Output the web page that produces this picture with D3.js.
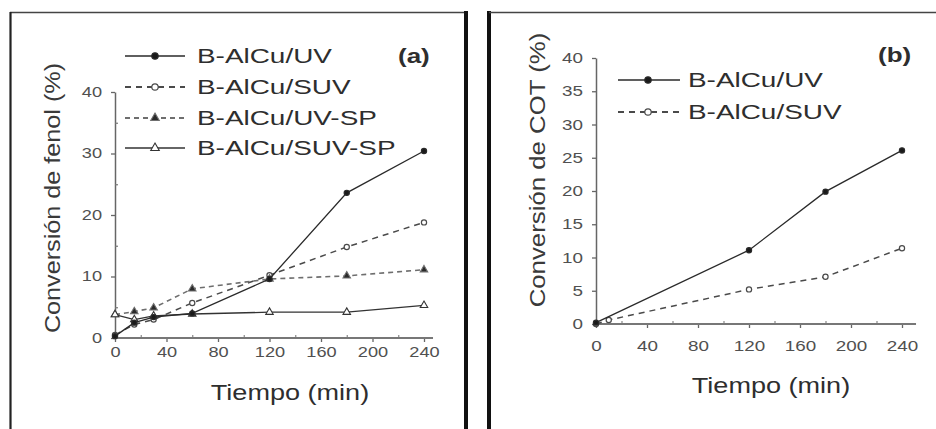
<!DOCTYPE html>
<html>
<head>
<meta charset="utf-8">
<script src="https://cdn.jsdelivr.net/npm/d3@7"></script>
<style>
  body { margin: 0; background: #fff; }
  svg text { font-family: "Liberation Sans", Arial, sans-serif; }
</style>
</head>
<body>
<div id="chart"></div>
<script>
// panel (a): phenol conversion
const timeA = [0, 15, 30, 60, 120, 180, 240];
const uvA = [0.3, 2.5, 3.4, 4.0, 9.6, 23.6, 30.4];
const suvA = [0.5, 2.2, 3.0, 5.7, 10.2, 14.8, 18.8];
const uvSpA = [3.8, 4.3, 4.9, 8.0, 9.6, 10.1, 11.1];
const suvSpA = [3.8, 3.0, 3.6, 3.9, 4.2, 4.2, 5.3];
const seriesNamesA = ["B-AlCu/UV", "B-AlCu/SUV", "B-AlCu/UV-SP", "B-AlCu/SUV-SP"];
const yTicksA = [0, 10, 20, 30, 40];
const yMinorA = [5, 15, 25, 35];

// panel (b): TOC conversion
const timeUvB = [0, 120, 180, 240];
const uvB = [0.2, 11.1, 19.9, 26.1];
const timeSuvB = [0, 10, 120, 180, 240];
const suvB = [0, 0.6, 5.2, 7.1, 11.4];
const seriesNamesB = ["B-AlCu/UV", "B-AlCu/SUV"];
const yTicksB = [0, 5, 10, 15, 20, 25, 30, 35, 40];

const xTicks = [0, 40, 80, 120, 160, 200, 240];
const xMinor = [20, 60, 100, 140, 180, 220];

const W = 936, H = 429;
const svg = d3.select("#chart").append("svg").attr("width", W).attr("height", H);

// styles per series kind
const styles = {
  uv:    { stroke: "#2a2a2a", dash: null,  width: 1.3, marker: "circle",   fill: "#1a1a1a" },
  suv:   { stroke: "#4a4a4a", dash: "6,5", width: 1.5, marker: "circle",   fill: "#fff" },
  uvSp:  { stroke: "#6e6e6e", dash: "5,4", width: 1.6, marker: "triangle", fill: "#2a2a2a" },
  suvSp: { stroke: "#333",    dash: null,  width: 1.3, marker: "triangle", fill: "#fff" }
};

const stretchText = (sel, sx) => sel.attr("transform", `scale(${sx},1)`);

function drawMarker(g, kind, x, y, st, size) {
  if (kind === "circle") {
    g.append("circle").attr("cx", x).attr("cy", y).attr("r", size)
      .attr("fill", st.fill).attr("stroke", st.stroke).attr("stroke-width", 1.2);
  } else {
    g.append("path")
      .attr("d", d3.symbol().type(d3.symbolTriangle).size(size * size * 5)())
      .attr("transform", `translate(${x},${y})`)
      .attr("fill", st.fill).attr("stroke", st.stroke).attr("stroke-width", 1.1);
  }
}

function drawSeries(g, x, y, times, vals, st, msize) {
  const pts = times.map((t, i) => [x(t), y(vals[i])]);
  g.append("path")
    .attr("d", d3.line()(pts))
    .attr("fill", "none")
    .attr("stroke", st.stroke)
    .attr("stroke-width", st.width)
    .attr("stroke-dasharray", st.dash);
  pts.forEach(p => drawMarker(g, st.marker, p[0], p[1], st, msize));
}

function drawAxes(g, x, y, opt) {
  const yAx = g.append("g").attr("transform", `translate(${x(0)},0)`)
    .call(d3.axisLeft(y).tickValues(opt.yTicks).tickSize(4).tickPadding(6).tickSizeOuter(0));
  yAx.select(".domain").attr("stroke", "#666").attr("stroke-width", 1.5);
  yAx.selectAll(".tick line").attr("stroke", "#666").attr("stroke-width", 1.3);
  yAx.selectAll("text").attr("font-size", opt.tickFont).attr("fill", "#505050")
    .call(stretchText, 1.3);
  if (opt.yMinor) {
    const m = g.append("g").attr("transform", `translate(${x(0)},0)`)
      .call(d3.axisLeft(y).tickValues(opt.yMinor).tickSize(-3).tickFormat(""));
    m.select(".domain").remove();
    m.selectAll(".tick line").attr("stroke", "#777").attr("stroke-width", 1.2);
  }

  const xAx = g.append("g").attr("transform", `translate(0,${y(0)})`)
    .call(d3.axisBottom(x).tickValues(xTicks).tickSize(4).tickPadding(opt.xPad).tickSizeOuter(0));
  xAx.select(".domain").remove();
  xAx.selectAll(".tick line").attr("stroke", "#666").attr("stroke-width", 1.3);
  xAx.selectAll("text").attr("font-size", opt.tickFont).attr("fill", "#505050")
    .call(stretchText, 1.3);
  const xm = g.append("g").attr("transform", `translate(0,${y(0)})`)
    .call(d3.axisBottom(x).tickValues(xMinor).tickSize(-3).tickFormat(""));
  xm.select(".domain").remove();
  xm.selectAll(".tick line").attr("stroke", "#888").attr("stroke-width", 1.2);
  g.append("line")
    .attr("x1", x(0) - 2).attr("x2", x(opt.xEnd))
    .attr("y1", y(0)).attr("y2", y(0))
    .attr("stroke", "#777").attr("stroke-width", 1.8);
}

function textAt(g, str, x, y, size, sx, opts = {}) {
  return g.append("text")
    .attr("transform", `translate(${x},${y}) scale(${sx},1)`)
    .attr("text-anchor", opts.anchor || "start")
    .attr("dominant-baseline", "central")
    .attr("font-size", size)
    .attr("font-weight", opts.bold ? "bold" : null)
    .attr("fill", opts.fill || "#2e2e2e")
    .text(str);
}

function yTitle(g, str, x, y, size, sLen, sGlyph) {
  g.append("text")
    .attr("transform", `translate(${x},${y}) rotate(-90) scale(${sLen},${sGlyph})`)
    .attr("text-anchor", "middle")
    .attr("dominant-baseline", "central")
    .attr("font-size", size)
    .attr("fill", "#3a3a3a")
    .text(str);
}

// ---- frames ----
const frame = svg.append("g");
frame.append("line").attr("x1", 10).attr("x2", 466).attr("y1", 12.5).attr("y2", 12.5)
  .attr("stroke", "#444").attr("stroke-width", 1.6);
frame.append("line").attr("x1", 10.5).attr("x2", 10.5).attr("y1", 12).attr("y2", H)
  .attr("stroke", "#222").attr("stroke-width", 2.2);
frame.append("line").attr("x1", 466).attr("x2", 466).attr("y1", 11).attr("y2", H)
  .attr("stroke", "#111").attr("stroke-width", 4);
frame.append("line").attr("x1", 489).attr("x2", 489).attr("y1", 11).attr("y2", H)
  .attr("stroke", "#111").attr("stroke-width", 4);
frame.append("line").attr("x1", 489).attr("x2", W).attr("y1", 12.5).attr("y2", 12.5)
  .attr("stroke", "#444").attr("stroke-width", 1.6);

// ---- panel (a) ----
const gA = svg.append("g");
const xA = d3.scaleLinear().domain([0, 240]).range([115, 424]);
const yA = d3.scaleLinear().domain([0, 40]).range([338, 92]);
drawAxes(gA, xA, yA, { yTicks: yTicksA, yMinor: yMinorA, tickFont: 14, xPad: 5, xEnd: 247 });

const seriesA = [
  { vals: uvA, st: styles.uv },
  { vals: suvA, st: styles.suv },
  { vals: uvSpA, st: styles.uvSp },
  { vals: suvSpA, st: styles.suvSp }
];
// draw light ones first so the solid ones sit on top
[1, 2, 3, 0].forEach(i => {
  const s = seriesA[i];
  const size = s.st.marker === "circle" ? 2.6 : 2.2;
  drawSeries(gA, xA, yA, timeA, s.vals, s.st, size);
});

// legend (a)
const legRowsA = [56, 87, 118, 148];
seriesNamesA.forEach((name, i) => {
  const st = seriesA[i].st;
  const ly = legRowsA[i];
  gA.append("line").attr("x1", 125).attr("x2", 185).attr("y1", ly).attr("y2", ly)
    .attr("stroke", st.stroke).attr("stroke-width", st.width + 0.4)
    .attr("stroke-dasharray", st.dash);
  drawMarker(gA, st.marker, 155, ly, st, st.marker === "circle" ? 3.2 : 2.5);
  textAt(gA, name, 197, ly, 21, 1.33);
});
textAt(gA, "(a)", 398, 56, 20, 1.3, { bold: true });

yTitle(gA, "Conversión de fenol (%)", 53, 198, 20, 1.26, 1.08);
textAt(gA, "Tiempo (min)", 290, 392, 22, 1.23, { anchor: "middle" });

// ---- panel (b) ----
const gB = svg.append("g");
const xB = d3.scaleLinear().domain([0, 240]).range([596, 902]);
const yB = d3.scaleLinear().domain([0, 40]).range([324, 58]);
drawAxes(gB, xB, yB, { yTicks: yTicksB, yMinor: null, tickFont: 14.5, xPad: 13, xEnd: 251 });

drawSeries(gB, xB, yB, timeSuvB, suvB, styles.suv, 2.6);
drawSeries(gB, xB, yB, timeUvB, uvB, styles.uv, 2.6);

const legRowsB = [80, 112];
const stB = [styles.uv, styles.suv];
seriesNamesB.forEach((name, i) => {
  const st = stB[i];
  const ly = legRowsB[i];
  gB.append("line").attr("x1", 618).attr("x2", 680).attr("y1", ly).attr("y2", ly)
    .attr("stroke", st.stroke).attr("stroke-width", st.width + 0.3)
    .attr("stroke-dasharray", st.dash);
  drawMarker(gB, st.marker, 648, ly, st, 3.2);
  textAt(gB, name, 688, ly, 21, 1.33);
});
textAt(gB, "(b)", 878, 55, 20, 1.3, { bold: true });

yTitle(gB, "Conversión de COT (%)", 537, 170, 20, 1.29, 1.08);
textAt(gB, "Tiempo (min)", 771, 385, 22, 1.23, { anchor: "middle" });
</script>
</body>
</html>
